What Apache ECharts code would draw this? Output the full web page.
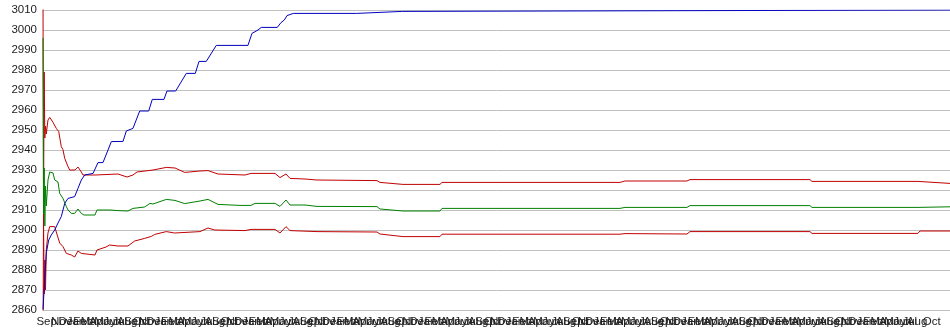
<!DOCTYPE html>
<html>
<head>
<meta charset="utf-8">
<script src="https://cdn.jsdelivr.net/npm/echarts@6/dist/echarts.min.js"></script>
<style>
html,body{margin:0;padding:0;background:#fff;}
#chart{width:950px;height:335px;}
</style>
</head>
<body>
<div id="chart"></div>
<script>
// Tick labels
const monthCycle = ['Sep','Oct','Nov','Dec','Jan','Feb','Mar','Apr','May','Jun','Jul','Aug'];
const monthCount = 124;
const lastLabelIndex = 121;
const yTicks = {min: 2860, max: 3010, step: 10};

// x positions are in months since the start (Sep 1)
const blueX = [0,0.23,0.45,0.78,1.13,1.60,2.05,2.50,2.97,3.42,4.33,4.78,5.24,5.70,6.84,7.52,8.20,8.89,9.34,10.94,11.39,12.30,13.22,14.45,14.94,16.54,16.95,18.14,19.59,20.82,21.33,22.32,23.69,28.02,28.57,29.39,29.84,32.03,32.54,32.99,33.36,34.22,42.88,42.99,49.12,49.21,124];
const blueY = [2860.3,2875,2888.5,2895,2897.5,2900,2903.5,2906.7,2913.3,2915.8,2916.7,2920.8,2925,2927.5,2928.3,2933.7,2933.7,2940,2944.2,2944.3,2949.5,2950.8,2959.5,2959.5,2965.3,2965.3,2969.5,2969.5,2978.3,2978.3,2984.3,2984.3,2992.3,2992.3,2998.3,3000,3001.3,3001.3,3003.7,3005,3007.2,3008.3,3008.3,3009.3,3009.3,3010,3010];

const greenX = [0,0.08,0.16,0.25,0.34,0.45,0.68,0.92,1.37,1.60,1.82,2.05,2.28,2.73,3.19,3.42,3.87,4.33,4.78,5.24,5.61,7.11,7.38,9.16,10.25,11.62,12.30,13.90,14.63,15.04,16.86,18.05,19.37,21.46,22.56,23.92,26.93,28.44,28.98,31.72,32.40,33.22,33.77,35.82,37.46,45.66,46.07,49.21,54.27,54.55,78.88,79.56,88.04,88.45,104.85,105.13,119.62,119.89,124];
const greenY = [2996,2908,2931,2902,2922,2912,2925,2929,2928.5,2925,2924.5,2924,2918.3,2915.8,2911.7,2910,2908.3,2908.3,2910.5,2908.3,2907.5,2907.5,2910,2910,2909.7,2909.5,2910.8,2911.5,2913.3,2913,2915.3,2914.8,2913.2,2914.5,2915.3,2912.8,2912.3,2912.3,2913.3,2913.3,2911.8,2915,2912.5,2912.5,2911.8,2911.7,2910.5,2909.5,2909.5,2910.8,2910.8,2911.3,2911.3,2912.2,2912.2,2911.3,2911.3,2911.6,2911.6];

const upperX = [0,0.07,0.16,0.25,0.34,0.45,0.68,0.92,1.16,1.37,1.82,2.15,2.50,2.73,2.97,3.42,3.65,4.37,4.78,5.24,5.47,7.11,7.38,10.25,11.48,12.30,12.85,15.04,16.86,18.05,19.37,21.46,22.56,23.92,27.61,28.44,31.72,32.40,33.22,33.77,35.82,37.46,45.66,46.07,49.21,54.27,54.55,78.88,79.56,88.04,88.45,104.85,105.13,119.62,119.89,124];
const upperY = [3020,2907.5,2979,2946,2952,2948,2955,2956.3,2955,2953.8,2950.8,2949.2,2941.7,2940.2,2935.8,2931.7,2930,2930,2931.5,2929,2927.5,2927.5,2928.5,2928,2926.5,2927.5,2929,2930,2931.3,2931,2928.8,2929.5,2929.7,2928,2927.5,2928.3,2928.3,2926.2,2928,2925.8,2925.5,2925,2924.7,2923.8,2922.8,2922.8,2923.8,2923.8,2924.5,2924.5,2925.2,2925.2,2924.3,2924.3,2923.3,2923.3];

const lowerX = [0,0.07,0.16,0.25,0.34,0.45,0.68,0.92,1.16,1.60,1.82,2.05,2.28,2.73,3.19,3.87,4.33,4.78,5.24,5.47,7.11,7.38,8.61,9.11,10.25,11.62,12.53,13.90,14.81,15.27,16.86,18.00,21.46,22.56,23.48,27.61,28.44,31.72,32.40,33.22,33.77,37.46,45.66,46.07,49.21,54.27,54.55,78.88,79.56,88.04,88.45,104.85,105.13,119.62,119.89,124];
const lowerY = [2840,2907.5,2868,2885,2870,2890,2898.5,2901.7,2902.5,2901.7,2899,2898.3,2893.5,2891.7,2888.3,2887.5,2886.5,2889.5,2888.3,2887.5,2887.5,2890,2891.5,2892.5,2892,2892,2894.5,2895.8,2896.8,2897.8,2899.2,2898.5,2899.2,2901,2900,2899.7,2900.3,2900.3,2898.5,2901.7,2899.7,2899.2,2899,2898,2896.7,2896.7,2897.9,2897.9,2898.2,2898,2899.2,2899.2,2898.3,2898.3,2899.5,2899.5];

const categories = [];
for (let i = 0; i < monthCount; i++) categories.push(monthCycle[i % 12]);
const zip = (xs, ys) => xs.map((x, i) => [x, ys[i]]);

const chart = echarts.init(document.getElementById('chart'), null, {renderer: 'canvas'});
const lineSeries = (name, xs, ys, color) => ({
  name, type: 'line', xAxisIndex: 1, data: zip(xs, ys),
  symbol: 'none', clip: true, animation: false,
  lineStyle: {color, width: 1}, emphasis: {disabled: true}
});
chart.setOption({
  animation: false,
  backgroundColor: '#ffffff',
  grid: {left: 43, right: 0, top: 10, height: 300, containLabel: false},
  xAxis: [{
    type: 'category', data: categories, boundaryGap: true,
    axisLine: {show: false}, axisTick: {show: false}, splitLine: {show: false},
    axisLabel: {
      interval: (idx) => idx <= lastLabelIndex,
      showMinLabel: true, showMaxLabel: true, hideOverlap: false,
      color: '#222', fontSize: 11.5, fontFamily: 'Liberation Sans, Arial, sans-serif', margin: 6
    }
  }, {
    type: 'value', min: 0, max: monthCount, show: false
  }],
  yAxis: {
    type: 'value', min: yTicks.min, max: yTicks.max, interval: yTicks.step,
    axisLine: {show: false}, axisTick: {show: false},
    splitLine: {lineStyle: {color: '#c0c0c0', width: 1}},
    axisLabel: {
      formatter: (v) => String(v),
      color: '#222', fontSize: 11.5, fontFamily: 'Liberation Sans, Arial, sans-serif', margin: 6
    }
  },
  series: [
    lineSeries('upper', upperX, upperY, '#c00000'),
    lineSeries('lower', lowerX, lowerY, '#c00000'),
    lineSeries('mean', greenX, greenY, '#008000'),
    lineSeries('max', blueX, blueY, '#0000c0')
  ]
});
</script>
</body>
</html>
